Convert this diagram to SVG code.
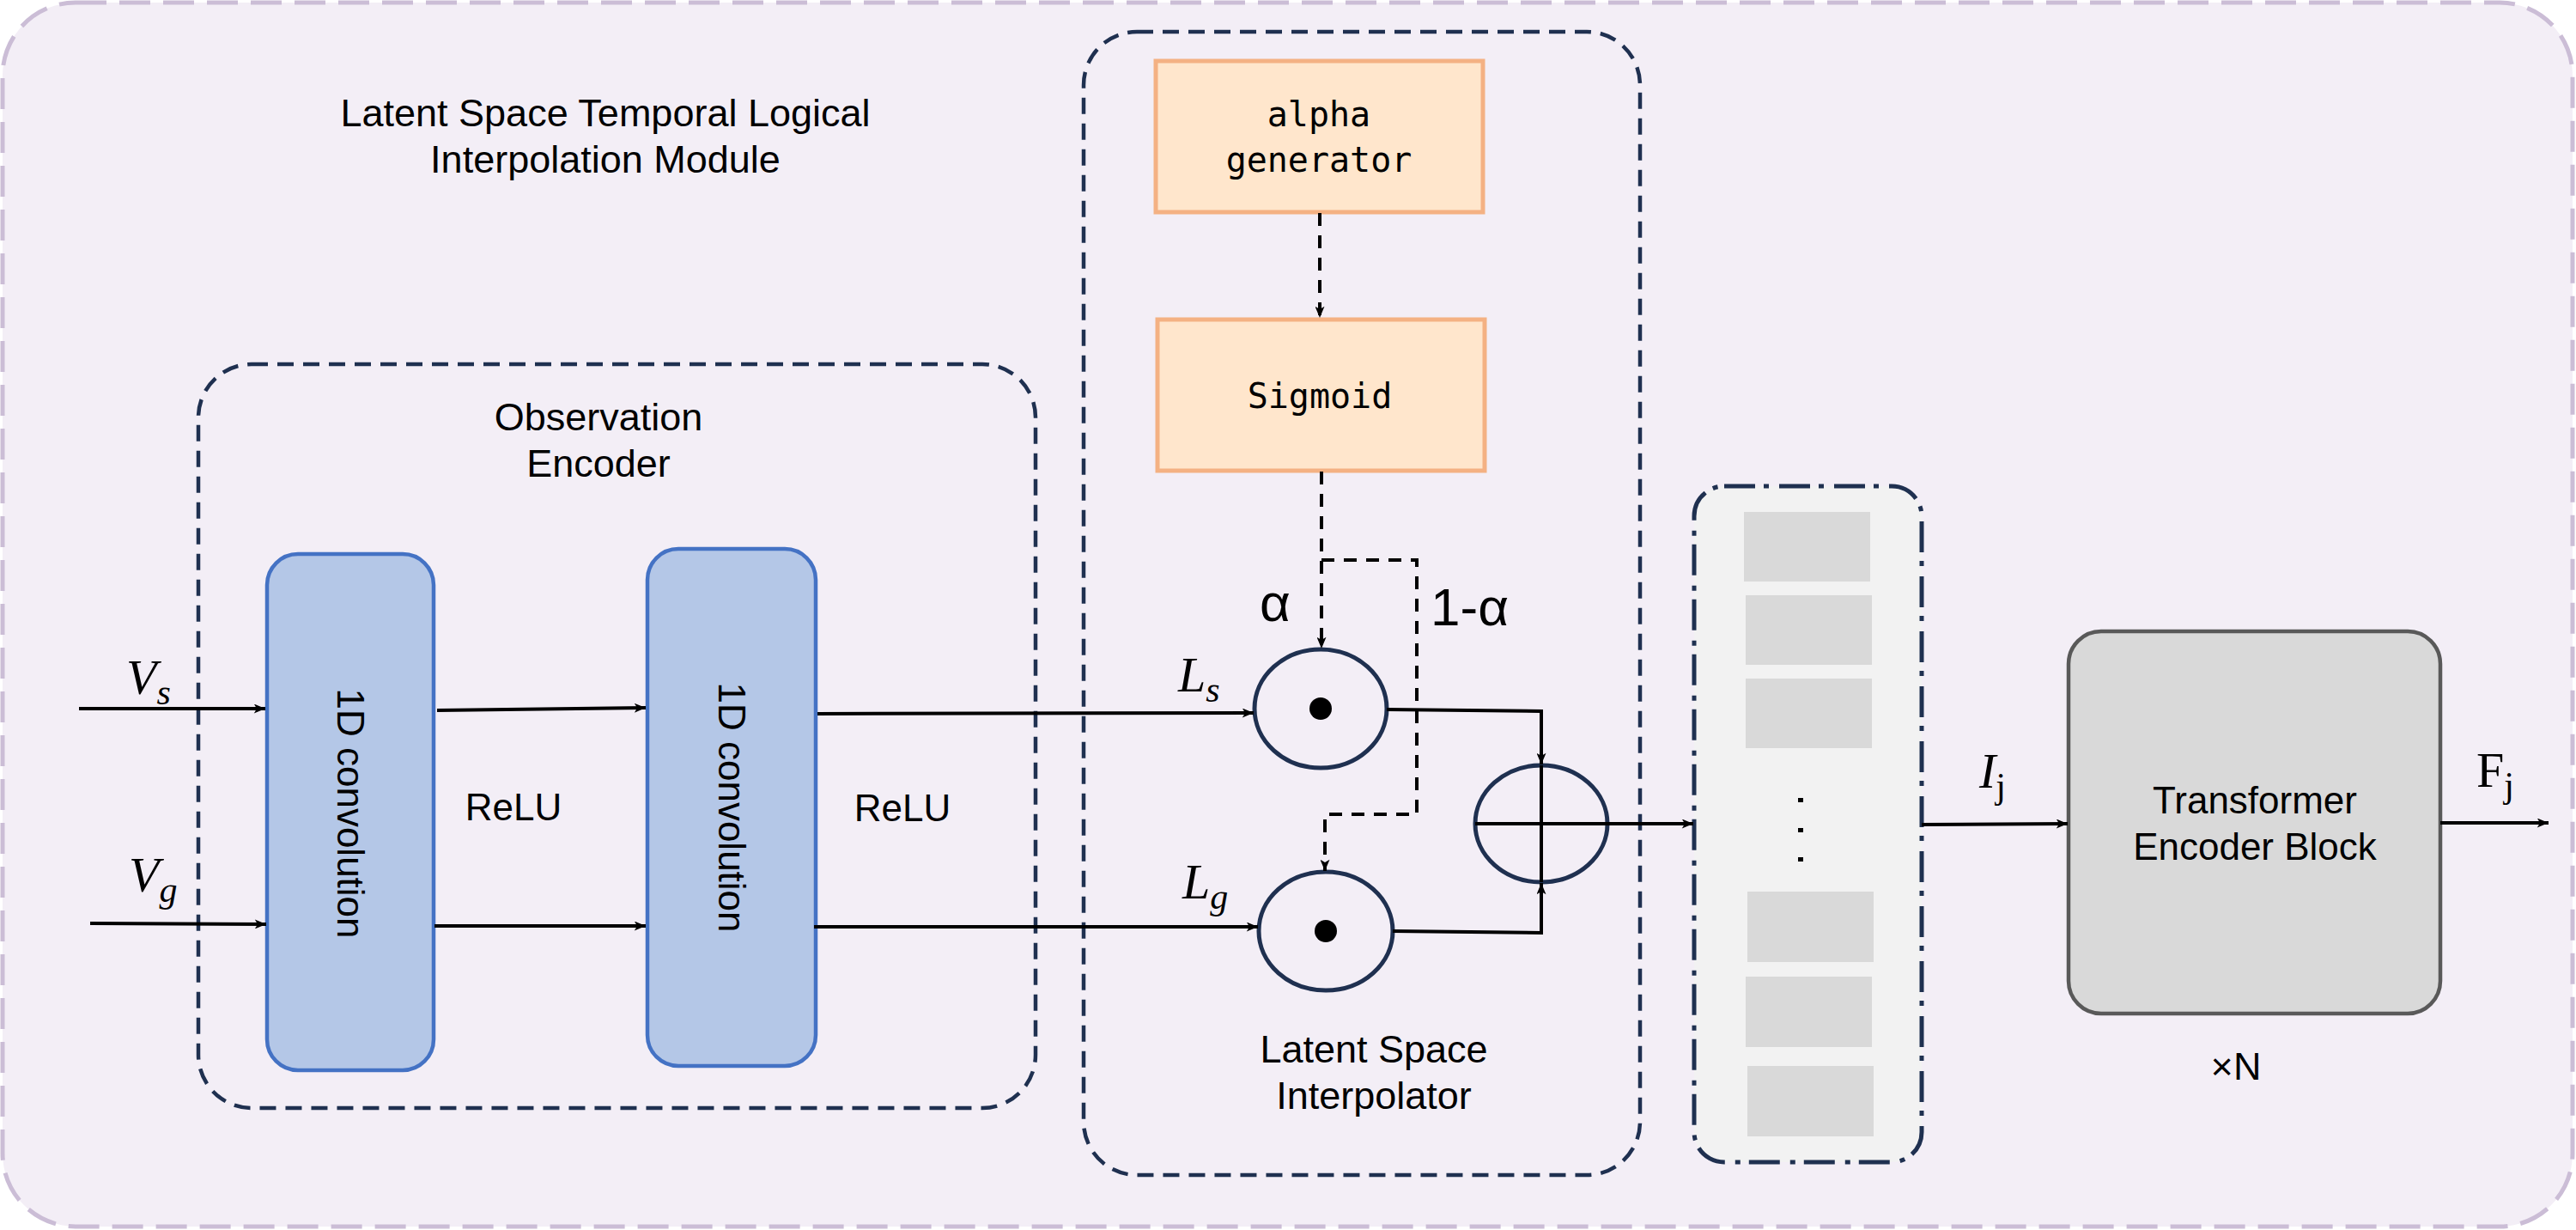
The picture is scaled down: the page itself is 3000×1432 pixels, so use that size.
<svg xmlns="http://www.w3.org/2000/svg" width="3000" height="1432" viewBox="0 0 3000 1432">
<style>
.t{font-family:"Liberation Sans",Arial,sans-serif;font-size:45px;fill:#000;text-anchor:middle}
.s44{font-size:44px}
.big{font-size:62px}
.mono{font-family:"DejaVu Sans Mono","Liberation Mono",monospace;font-size:40px;fill:#000;text-anchor:middle}
.math{font-family:"Liberation Serif","Times New Roman",serif;font-size:58px;fill:#000}
.navy{fill:none;stroke:#1f3050;stroke-width:4.5;stroke-dasharray:19 11}
.conv{fill:#b4c7e7;stroke:#4472c4;stroke-width:4.5}
.orange{fill:#ffe6cc;stroke:#f4b183;stroke-width:5}
.op{fill:none;stroke:#1f3050;stroke-width:5}
.ln{fill:none;stroke:#000;stroke-width:4}
.dl{fill:none;stroke:#000;stroke-width:4;stroke-dasharray:15 11}
.tok{fill:#d9d9d9}
</style>
<defs>
<marker id="ah" viewBox="0 0 12 10" refX="12" refY="5" markerWidth="14" markerHeight="11" markerUnits="userSpaceOnUse" orient="auto">
<path d="M0,0 L12,5 L0,10 L3,5 Z" fill="#000"/>
</marker>
</defs>
<g id="module">
<rect x="3" y="3" width="2993" height="1425" rx="85" fill="#f3eef6" stroke="#cbbdd6" stroke-width="5" stroke-dasharray="36 15"/>
<text class="t" x="705" y="147">Latent Space Temporal Logical</text>
<text class="t" x="705" y="201">Interpolation Module</text>
</g>
<g id="observation-encoder">
<rect class="navy" x="231" y="424" width="975" height="866" rx="62"/>
<text class="t" x="697" y="501">Observation</text>
<text class="t" x="697" y="555">Encoder</text>
</g>
<g id="conv1">
<rect class="conv" x="311" y="645" width="194" height="601" rx="36"/>
<text class="t s44" transform="translate(408,947) rotate(90)" dy="15">1D convolution</text>
</g>
<g id="conv2">
<rect class="conv" x="754" y="639" width="196" height="602" rx="36"/>
<text class="t s44" transform="translate(852,940) rotate(90)" dy="15">1D convolution</text>
</g>
<g id="relu-labels">
<text class="t s44" x="598" y="955">ReLU</text>
<text class="t s44" x="1051" y="956">ReLU</text>
</g>
<g id="interpolator">
<rect class="navy" x="1262" y="37" width="648" height="1331" rx="62"/>
<text class="t" x="1600" y="1237">Latent Space</text>
<text class="t" x="1600" y="1291">Interpolator</text>
</g>
<g id="alpha-generator">
<rect class="orange" x="1346" y="71" width="381" height="176"/>
<text class="mono" x="1536" y="147">alpha</text>
<text class="mono" x="1536" y="200">generator</text>
</g>
<g id="sigmoid">
<rect class="orange" x="1348" y="372" width="381" height="176"/>
<text class="mono" x="1537" y="475">Sigmoid</text>
</g>
<g id="mul-s">
<ellipse class="op" cx="1538" cy="825" rx="77" ry="69"/>
<circle cx="1538" cy="825" r="13" fill="#000"/>
</g>
<g id="mul-g">
<ellipse class="op" cx="1544" cy="1084" rx="78" ry="69"/>
<circle cx="1544" cy="1084" r="13" fill="#000"/>
</g>
<g id="add">
<ellipse class="op" cx="1795" cy="959" rx="77" ry="68"/>
<line class="ln" x1="1795" y1="891" x2="1795" y2="1027"/>
<line class="ln" x1="1718" y1="959" x2="1872" y2="959"/>
</g>
<g id="tokens">
<rect x="1973" y="566" width="265" height="787" rx="35" fill="#f2f2f2" stroke="#1f3050" stroke-width="5" stroke-dasharray="36 10 6 12"/>
<rect class="tok" x="2031" y="596" width="147" height="81"/>
<rect class="tok" x="2033" y="693" width="147" height="81"/>
<rect class="tok" x="2033" y="790" width="147" height="81"/>
<rect class="tok" x="2035" y="1038" width="147" height="82"/>
<rect class="tok" x="2033" y="1137" width="147" height="82"/>
<rect class="tok" x="2035" y="1241" width="147" height="82"/>
<rect x="2094" y="929" width="6" height="5" fill="#000"/>
<rect x="2094" y="964" width="6" height="5" fill="#000"/>
<rect x="2094" y="998" width="6" height="5" fill="#000"/>
</g>
<g id="transformer">
<rect x="2409" y="735" width="433" height="445" rx="38" fill="#d9d9d9" stroke="#595959" stroke-width="4.5"/>
<text class="t s44" x="2626" y="947">Transformer</text>
<text class="t s44" x="2626" y="1001">Encoder Block</text>
<text class="t" x="2604" y="1257">×N</text>
</g>
<g id="labels">
<text class="math" x="147" y="808" font-style="italic">V<tspan font-size="42" dy="12">s</tspan></text>
<text class="math" x="150" y="1038" font-style="italic">V<tspan font-size="42" dy="12">g</tspan></text>
<text class="math" x="1372" y="805" font-style="italic">L<tspan font-size="42" dy="12">s</tspan></text>
<text class="math" x="1377" y="1046" font-style="italic">L<tspan font-size="42" dy="12">g</tspan></text>
<text class="math" x="2305" y="917" font-style="italic">I<tspan font-size="42" font-style="normal" dy="12">j</tspan></text>
<text class="math" x="2884" y="916">F<tspan font-size="42" dy="12">j</tspan></text>
<text class="t big" x="1485" y="723">α</text>
<text class="t big" x="1666" y="728" style="text-anchor:start">1-α</text>
</g>
<g id="connectors">
<line class="ln" x1="92" y1="825" x2="309" y2="825" marker-end="url(#ah)"/>
<line class="ln" x1="105" y1="1075" x2="310" y2="1076" marker-end="url(#ah)"/>
<line class="ln" x1="509" y1="827" x2="752" y2="824" marker-end="url(#ah)"/>
<line class="ln" x1="506" y1="1078" x2="752" y2="1078" marker-end="url(#ah)"/>
<line class="ln" x1="952" y1="831" x2="1460" y2="830" marker-end="url(#ah)"/>
<line class="ln" x1="948" y1="1079" x2="1465" y2="1079" marker-end="url(#ah)"/>
<line class="dl" x1="1537" y1="248" x2="1537" y2="370" marker-end="url(#ah)"/>
<line class="dl" x1="1539" y1="549" x2="1539" y2="755" marker-end="url(#ah)"/>
<polyline class="dl" points="1539,652 1650,652 1650,948 1543,948 1543,1014" marker-end="url(#ah)"/>
<polyline class="ln" points="1615,826 1795,828 1795,890" marker-end="url(#ah)"/>
<polyline class="ln" points="1622,1084 1795,1086 1795,1028" marker-end="url(#ah)"/>
<line class="ln" x1="1872" y1="959" x2="1972" y2="959" marker-end="url(#ah)"/>
<line class="ln" x1="2238" y1="960" x2="2408" y2="959" marker-end="url(#ah)"/>
<line class="ln" x1="2842" y1="958" x2="2968" y2="958" marker-end="url(#ah)"/>
</g>
</svg>
